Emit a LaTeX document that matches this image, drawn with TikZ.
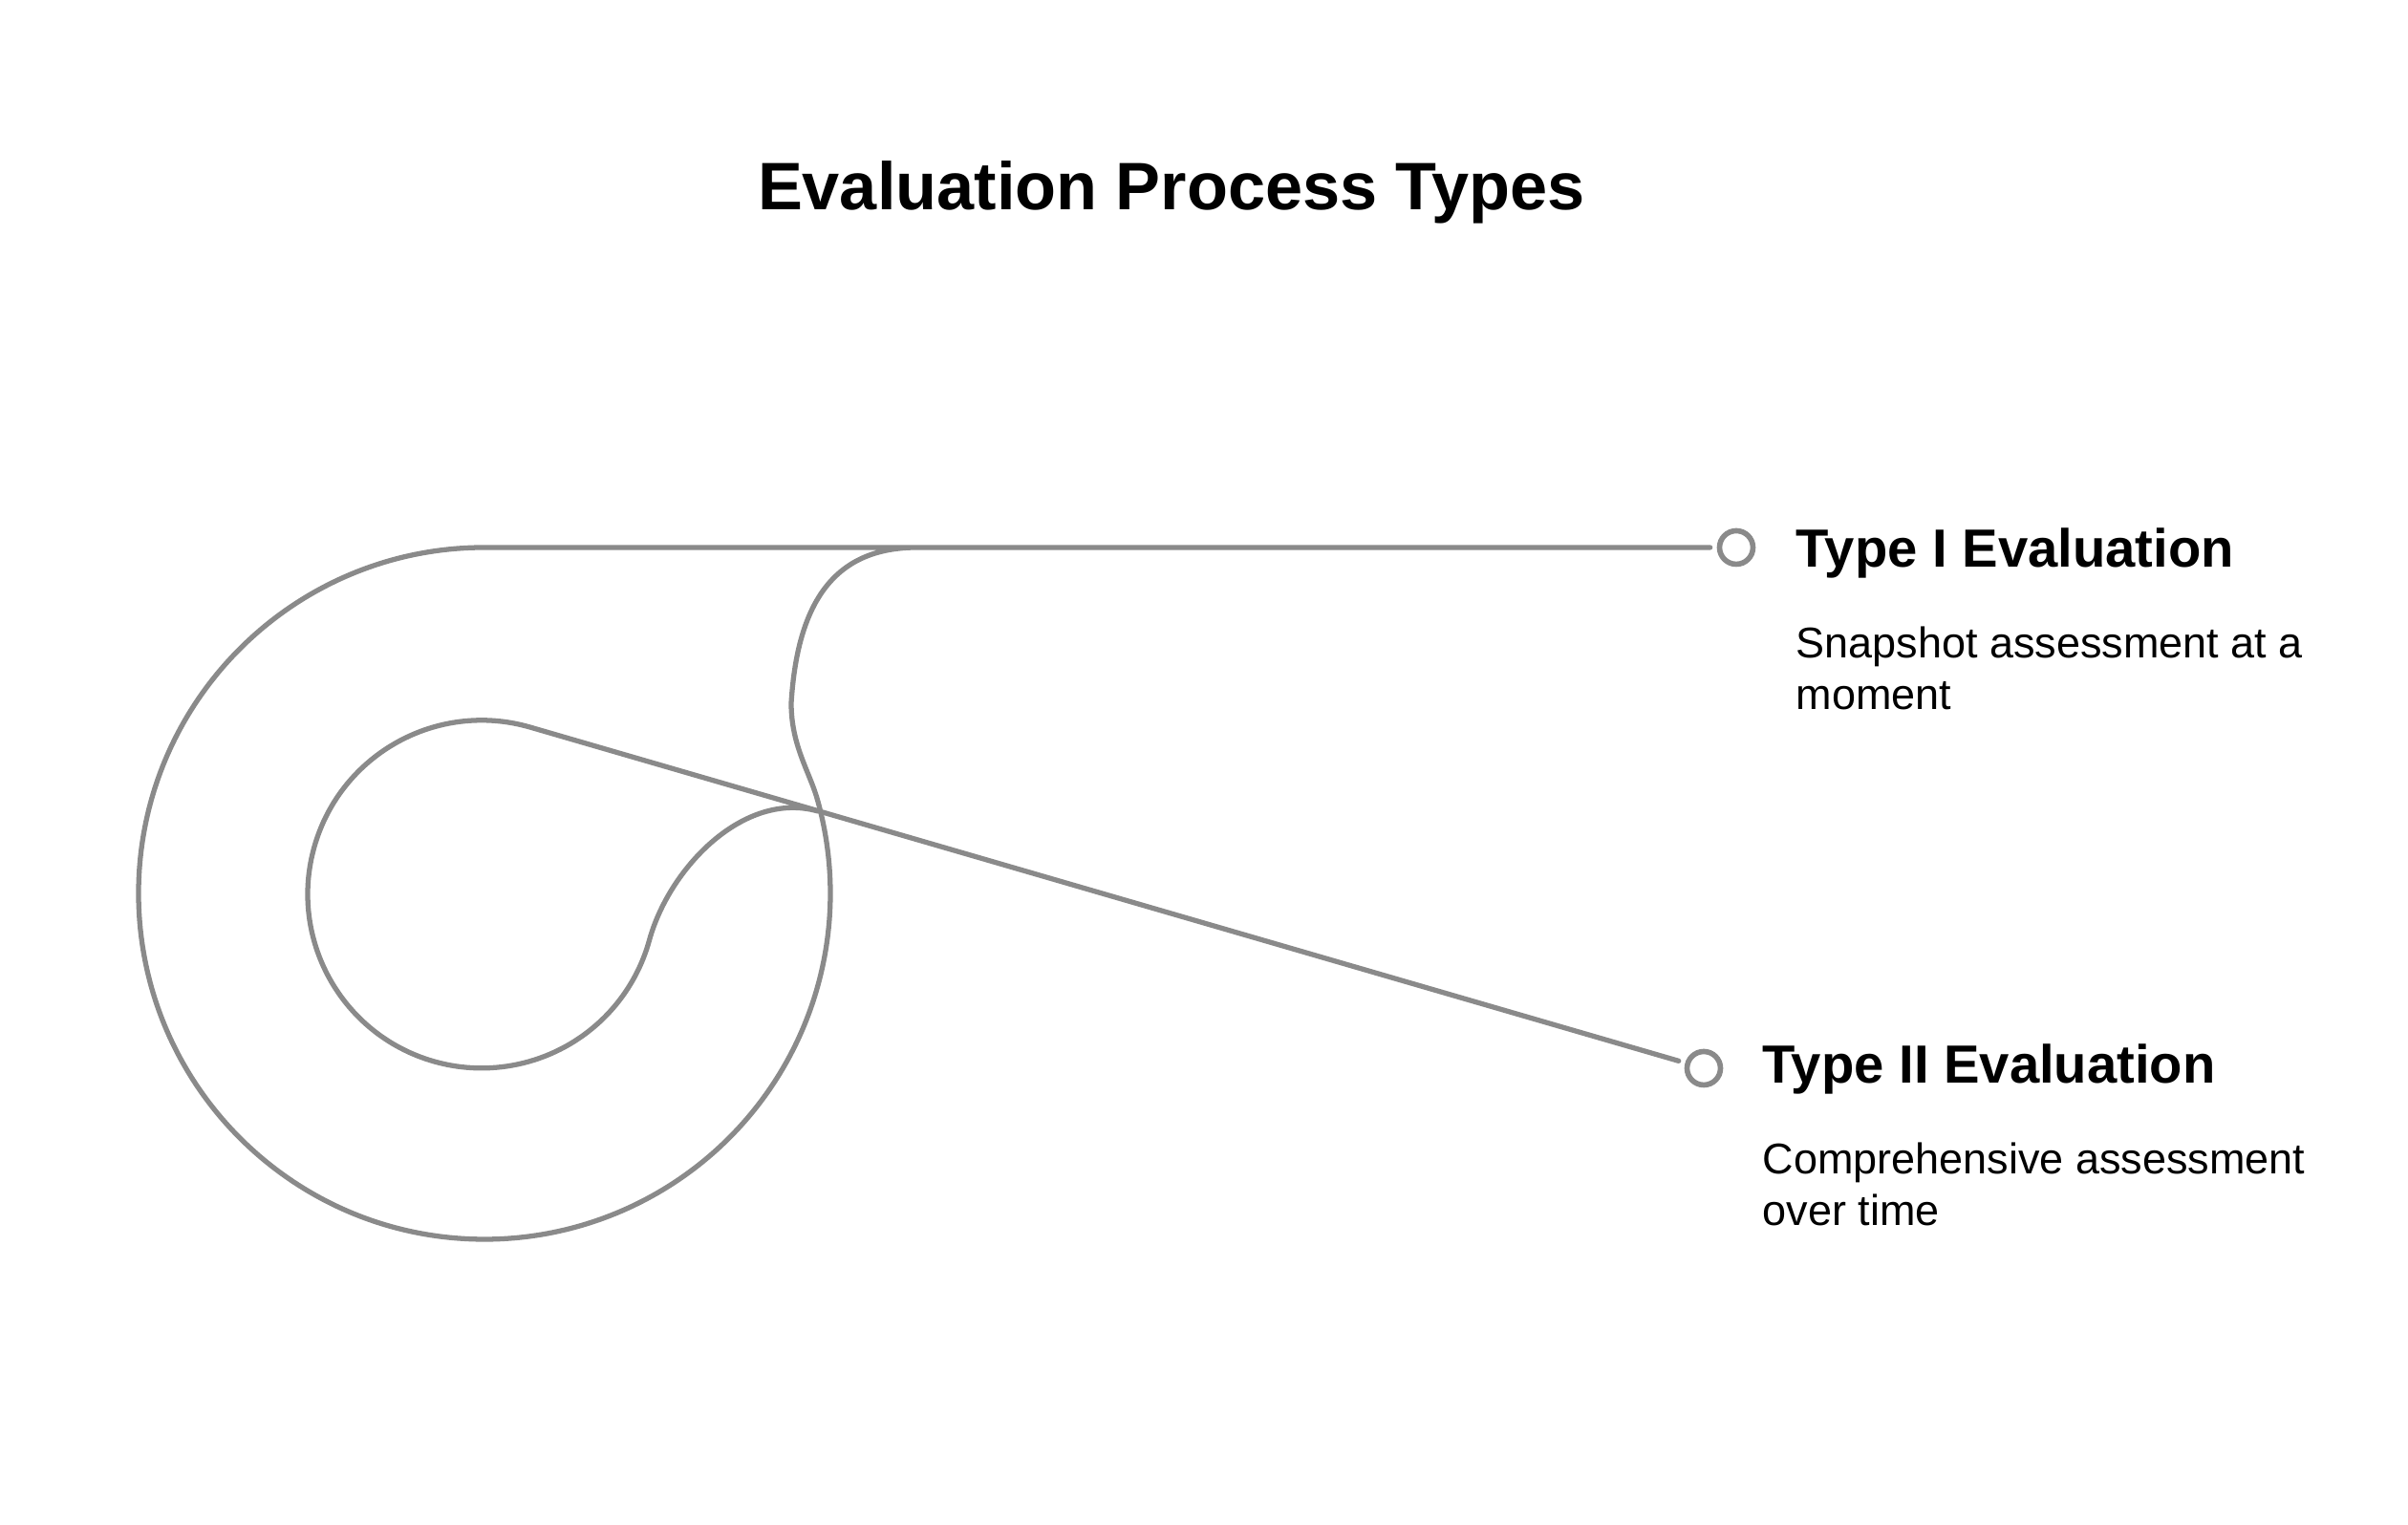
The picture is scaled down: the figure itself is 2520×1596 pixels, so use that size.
\documentclass[tikz,border=0pt]{standalone}
\usepackage{fontspec}
\setmainfont{Liberation Sans}
\usetikzlibrary{positioning}
\definecolor{loopgray}{HTML}{8A8A8A}
\tikzset{
  loopline/.style={draw=loopgray, line width=1.5pt, line cap=round, line join=round},
  dotmark/.style={circle, draw=loopgray, line width=1.6pt, minimum size=3.5mm, inner sep=0pt},
  headline/.style={font=\bfseries\fontsize{16}{19}\selectfont, inner sep=0pt, anchor=base west},
  blurb/.style={font=\fontsize{12.8}{15.6}\selectfont, align=left, inner sep=0pt, anchor=base west},
}

\begin{document}
\begin{tikzpicture}[x=0.1mm,y=0.1mm]
\useasboundingbox (0,0) rectangle (2520,1596);
\node[font=\bfseries\fontsize{20}{24}\selectfont, anchor=base] (title) at (1226,1376) {Evaluation Process Types};
\node[dotmark] (m1) at (1817,1023) {};
\node[dotmark] (m2) at (1783,478) {};
\node[headline] (t1) at (1879,1002) {Type I Evaluation};
\node[headline] (t2) at (1844,462) {Type II Evaluation};
\node[blurb] (d1) at (1879,853) {Snapshot assessment at a\\moment};
\node[blurb] (d2) at (1844,313) {Comprehensive assessment\\over time};
\coordinate (top) at (507,1023);
\coordinate (pin) at (554.5,835);
\draw[loopline, shorten <=2pt] (m1) -- (top) arc (90:375.5:362) .. controls (848,787) and (828,815) .. (828,860) .. controls (835,975) and (880,1023) .. (960,1023) -- (1000,1023);
\draw[loopline, shorten <=2pt] (m2) -- (pin) arc (73.9:344.3:182) .. controls (700,688) and (779,769) .. (856,747);
\end{tikzpicture}
\end{document}
